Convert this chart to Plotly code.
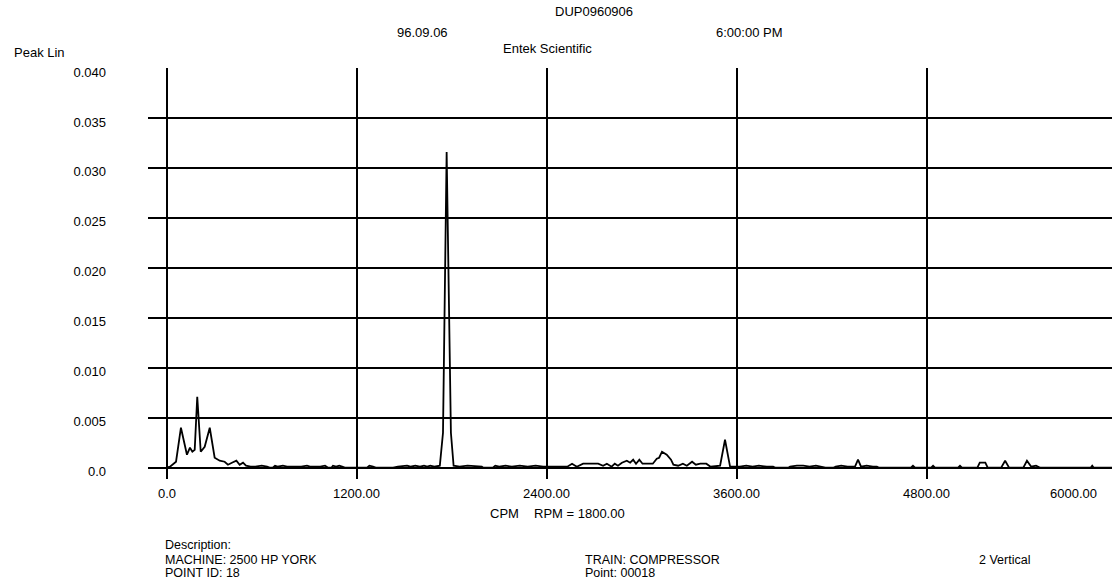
import plotly.graph_objects as go

# Spectrum: frequency (CPM) and peak amplitude (linear units)
cpm = [0, 21, 59, 90, 128, 147, 162, 177, 193, 215, 240, 272, 303, 335, 366, 387, 412, 440, 461, 482,
       501, 530, 560, 600, 634, 650, 670, 684, 700, 734, 760, 800, 850, 886, 905, 940, 970, 1000, 1020,
       1040, 1050, 1070, 1090, 1108, 1125, 1265, 1280, 1303, 1320, 1430, 1460, 1518, 1540, 1570, 1600,
       1625, 1645, 1665, 1690, 1725, 1745, 1768, 1795, 1812, 1850, 1900, 1960, 1990, 2000, 2060, 2075,
       2100, 2140, 2180, 2230, 2280, 2330, 2377, 2450, 2500, 2530, 2560, 2590, 2630, 2725, 2756, 2780,
       2810, 2830, 2850, 2875, 2906, 2927, 2946, 2964, 2985, 3005, 3070, 3095, 3110, 3128, 3158, 3185,
       3200, 3230, 3260, 3285, 3318, 3342, 3370, 3408, 3435, 3495, 3526, 3558, 3620, 3660, 3700, 3740,
       3790, 3830, 3845, 3925, 3937, 3980, 4020, 4060, 4100, 4145, 4160, 4210, 4225, 4260, 4285, 4300,
       4347, 4366, 4385, 4420, 4460, 4485, 4500, 4700, 4713, 4726, 4828, 4840, 4852, 4998, 5010, 5022,
       5120, 5135, 5170, 5185, 5270, 5295, 5320, 5410, 5433, 5460, 5490, 5517, 5835, 5845, 5855, 5970]
amplitude = [0.0, 0.0001, 0.0006, 0.0040, 0.0013, 0.0020, 0.0016, 0.0018, 0.0071, 0.0016, 0.0021, 0.0040,
             0.0010, 0.0007, 0.0006, 0.0003, 0.0005, 0.0007, 0.0003, 0.0005,
             0.0002, 0.0001, 0.0001, 0.0002, 0.0001, 0.0, 0.0, 0.0002, 0.0001, 0.0002, 0.0001, 0.0001,
             0.0001, 0.0002, 0.0001, 0.0001, 0.0001, 0.0002, 0.0,
             0.0, 0.0002, 0.0001, 0.0002, 0.0001, 0.0, 0.0, 0.0002, 0.0001, 0.0, 0.0, 0.0001, 0.0002,
             0.0001, 0.0002, 0.0001,
             0.0002, 0.0001, 0.0002, 0.0001, 0.0002, 0.0035, 0.0316, 0.0035, 0.0002, 0.0001, 0.0002,
             0.0001, 0.0001, 0.0, 0.0, 0.0002,
             0.0001, 0.0002, 0.0001, 0.0002, 0.0001, 0.0002, 0.0001, 0.0001, 0.0001, 0.0001, 0.0004,
             0.0001, 0.0004, 0.0004, 0.0002, 0.0004,
             0.0001, 0.0004, 0.0002, 0.0005, 0.0007, 0.0005, 0.0008, 0.0004, 0.0008, 0.0004, 0.0004,
             0.0009, 0.0010, 0.0016, 0.0013, 0.0008,
             0.0003, 0.0002, 0.0004, 0.0002, 0.0006, 0.0003, 0.0004, 0.0004, 0.0001, 0.0002, 0.0028,
             0.0001, 0.0001, 0.0002, 0.0001, 0.0002,
             0.0001, 0.0001, 0.0, 0.0, 0.0001, 0.0002, 0.0002, 0.0001, 0.0002, 0.0001, 0.0, 0.0, 0.0001,
             0.0002, 0.0001, 0.0001,
             0.0001, 0.0008, 0.0001, 0.0002, 0.0001, 0.0001, 0.0, 0.0, 0.0002, 0.0, 0.0, 0.0002, 0.0,
             0.0, 0.0002, 0.0,
             0.0, 0.0005, 0.0005, 0.0, 0.0, 0.0007, 0.0, 0.0, 0.0007, 0.0001, 0.0002, 0.0, 0.0, 0.0002,
             0.0, 0.0]

y_ticks = [0.0, 0.005, 0.010, 0.015, 0.020, 0.025, 0.030, 0.035, 0.040]
y_tick_text = ["0.0", "0.005", "0.010", "0.015", "0.020", "0.025", "0.030", "0.035", "0.040"]
x_ticks = [0, 1200, 2400, 3600, 4800]
x_tick_text = ["0.0", "1200.00", "2400.00", "3600.00", "4800.00"]
last_x_label = "6000.00"

W, H = 1112, 580
L, R, T, B = 148, 0, 68, 101
FONT = "Liberation Sans, Arial, sans-serif"
FS = 13


def px(x):
    return (x - L) / (W - L - R)


def py(y):
    return (H - B - y) / (H - T - B)


fig = go.Figure()
fig.add_trace(go.Scatter(x=cpm, y=amplitude, mode="lines",
                         line=dict(color="black", width=1.8), hoverinfo="skip"))

fig.update_layout(
    width=W, height=H, margin=dict(l=L, r=R, t=T, b=B),
    paper_bgcolor="white", plot_bgcolor="white", showlegend=False,
    font=dict(family=FONT, size=FS, color="black"),
    xaxis=dict(range=[-118, 5970], tickvals=x_ticks, ticktext=[""] * len(x_ticks),
               showgrid=True, gridcolor="black", gridwidth=2, zeroline=False,
               showline=False, ticks=""),
    yaxis=dict(range=[-0.00113, 0.040], tickvals=y_ticks, ticktext=y_tick_text,
               showgrid=True, gridcolor="black", gridwidth=2, zeroline=False,
               showline=False, ticks="", ticklabelstandoff=41, ticklabelshift=4,
               tickfont=dict(family=FONT, size=FS, color="black")),
)

ann = []


def text(s, x, y, anchor="left", size=FS):
    ann.append(dict(text=s, x=px(x), y=py(y), xref="paper", yref="paper",
                    xanchor=anchor, yanchor="middle", showarrow=False,
                    font=dict(family=FONT, size=size, color="black")))


# x tick labels below the plot
for v, s in zip(x_ticks, x_tick_text):
    ann.append(dict(text=s, x=v, y=py(493), xref="x", yref="paper",
                    xanchor="center", yanchor="middle", showarrow=False,
                    font=dict(family=FONT, size=FS, color="black")))
text(last_x_label, 1073, 493, "center")

# header
text("DUP0960906", 594, 12, "center")
text("96.09.06", 422, 32, "center")
text("6:00:00 PM", 749, 32, "center")
text("Entek Scientific", 547, 48, "center")
text("Peak Lin", 12, 52)

# axis caption and footer
text("CPM", 488, 513)
text("RPM = 1800.00", 532, 513)
text("Description:", 163, 545, size=12.5)
text("MACHINE: 2500 HP YORK", 163, 560, size=12.5)
text("POINT ID: 18", 163, 573, size=12.5)
text("TRAIN: COMPRESSOR", 583, 560, size=12.5)
text("Point: 00018", 583, 573, size=12.5)
text("2 Vertical", 977, 560, size=12.5)

fig.update_layout(annotations=ann)
fig.write_html("out.html")
